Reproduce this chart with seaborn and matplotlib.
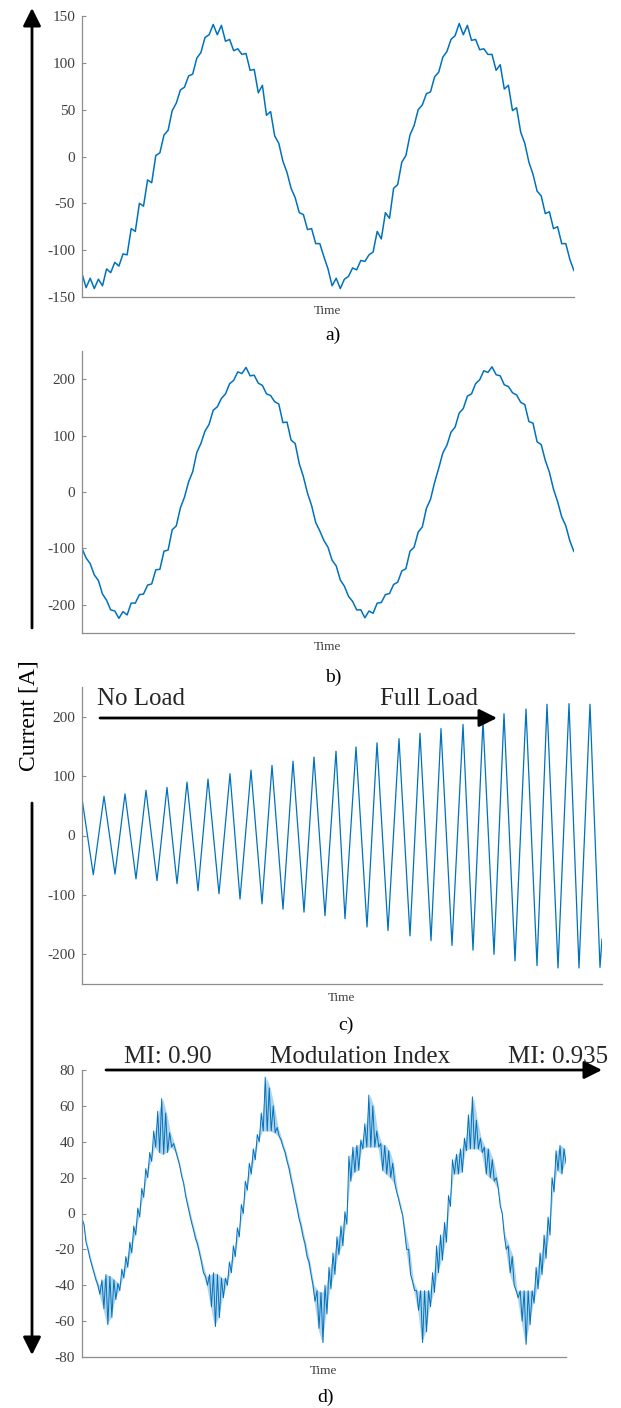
import numpy as np
import pandas as pd
import matplotlib
matplotlib.use("Agg")
import matplotlib.pyplot as plt
import seaborn as sns

# ---------------- data ----------------
# a) current [A], equally spaced samples across the time window
a_current = [
    -125, -140, -130, -141, -131, -138, -120, -124, -113, -117,
    -104, -105, -77, -80, -50, -53, -25, -28, 1, 4,
    23, 28, 49, 57, 71, 74, 86, 88, 105, 111,
    127, 130, 141, 130, 140, 123, 125, 113, 115, 109,
    110, 92, 93, 68, 76, 44, 48, 22, 14, -5,
    -17, -34, -44, -60, -62, -78, -77, -93, -93, -107,
    -120, -138, -130, -141, -131, -128, -119, -121, -111, -112,
    -105, -102, -80, -88, -60, -66, -34, -30, -6, 1,
    23, 33, 50, 55, 67, 69, 85, 90, 106, 112,
    125, 129, 142, 130, 140, 124, 125, 114, 115, 109,
    109, 92, 98, 72, 76, 49, 52, 26, 14, -6,
    -19, -37, -42, -61, -59, -77, -75, -93, -93, -110,
    -122]

# b) current [A], equally spaced samples
b_current = [
    -100, -117, -127, -147, -157, -181, -192, -209, -211, -224,
    -212, -218, -197, -197, -182, -181, -165, -163, -138, -137,
    -105, -103, -67, -60, -28, -9, 18, 36, 70, 86,
    108, 120, 145, 151, 166, 174, 192, 198, 213, 210,
    221, 206, 207, 193, 189, 174, 171, 160, 156, 123,
    124, 92, 86, 50, 27, -2, -24, -54, -69, -86,
    -98, -121, -131, -156, -167, -185, -194, -209, -209, -223,
    -211, -215, -197, -196, -182, -180, -164, -160, -140, -136,
    -105, -98, -71, -62, -29, -13, 17, 42, 69, 83,
    106, 115, 140, 148, 170, 174, 192, 199, 215, 212,
    222, 208, 206, 190, 187, 176, 172, 159, 155, 125,
    122, 89, 84, 56, 35, 5, -17, -44, -60, -87,
    -106]

# c) load ramp: time of each peak / trough and its current
c_time = [0, 11.3, 22, 33, 43, 54, 64, 75, 85, 95, 105, 116, 126, 137, 148,
          158, 169, 180, 190, 201, 211, 222, 232, 243, 254, 263, 274, 285,
          295, 306, 317, 328, 338, 349, 359, 370, 381, 391, 401, 412, 422,
          433, 444, 455, 465, 476, 487, 497, 508, 518, 520]
c_current = [62, -66, 66, -65, 70, -73, 76, -76, 81, -81, 90, -93, 95, -98,
             104, -107, 110, -115, 118, -124, 125, -129, 132, -135, 142,
             -140, 149, -154, 156, -160, 163, -169, 172, -177, 180, -185,
             187, -193, 194, -200, 205, -211, 213, -219, 221, -223, 222,
             -223, 221, -222, -174]

# d) modulation index ramp: upper / lower edge of the switching ripple
d_upper = [
    -3, -16, -25, -33, -40, -37, -34, -35, -37, -39,
    -31, -24, -16, -7, 3, 14, 25, 34, 46, 57,
    64, 56, 45, 39, 31, 21, 10, 0, -9, -17,
    -27, -35, -34, -33, -34, -36, -36, -27, -18, -8,
    5, 18, 28, 36, 44, 56, 76, 70, 60, 48,
    41, 34, 25, 14, 3, -7, -17, -27, -40, -43,
    -44, -40, -30, -22, -13, -7, 1, 32, 37, 38,
    41, 50, 66, 60, 46, 39, 38, 35, 28, 12,
    3, -10, -20, -38, -43, -43, -43, -43, -33, -18,
    -12, -5, 10, 30, 33, 36, 42, 55, 65, 52,
    42, 37, 36, 30, 20, 4, -12, -18, -24, -43,
    -43, -43, -43, -43, -30, -22, -12, -2, 20, 35,
    38, 36]
d_lower = [
    -6, -20, -29, -37, -45, -53, -62, -58, -48, -43,
    -36, -30, -22, -12, -2, 9, 20, 29, 37, 34,
    33, 34, 37, 35, 27, 17, 5, -5, -14, -22,
    -33, -40, -52, -63, -58, -47, -40, -33, -24, -13,
    0, 13, 22, 30, 40, 46, 46, 46, 45, 43,
    37, 29, 19, 8, -3, -13, -24, -34, -49, -64,
    -72, -56, -42, -34, -23, -18, -6, 18, 23, 24,
    36, 37, 37, 37, 37, 24, 22, 20, 17, 8,
    -1, -20, -34, -43, -54, -72, -66, -52, -44, -33,
    -26, -16, 4, 22, 22, 23, 35, 36, 36, 36,
    34, 22, 20, 18, 14, 0, -20, -33, -40, -47,
    -60, -73, -62, -50, -42, -34, -25, -12, 12, 24,
    22, 28]

a_ticks = [-150, -100, -50, 0, 50, 100, 150]
bc_ticks = [-200, -100, 0, 100, 200]
d_ticks = [-80, -60, -40, -20, 0, 20, 40, 60, 80]
panel_labels = ["a)", "b)", "c)", "d)"]

# ---------------- style ----------------
sns.set_theme(style="white")
plt.rcParams["font.family"] = ["Liberation Serif", "DejaVu Serif"]
plt.rcParams["axes.unicode_minus"] = False

W, H = 621, 1408
fig = plt.figure(figsize=(W / 100, H / 100), dpi=100)
fig.patch.set_facecolor("white")

BLUE = "#0072BD"
TXT = "#404040"
SPINE = "#8c8c8c"


def box(l, t, r, b):
    return [l / W, 1 - b / H, (r - l) / W, (b - t) / H]


def style(ax, ticks, lim):
    ax.set_ylim(*lim)
    ax.set_yticks(ticks)
    ax.set_yticklabels([str(v) for v in ticks])
    ax.set_xticks([])
    for s in ["top", "right"]:
        ax.spines[s].set_visible(False)
    for s in ["left", "bottom"]:
        ax.spines[s].set_color(SPINE)
        ax.spines[s].set_linewidth(0.9)
    ax.tick_params(axis="y", direction="in", length=3, width=0.8,
                   color=SPINE, labelsize=11, labelcolor=TXT, pad=5,
                   left=True)
    ax.set_ylabel("")
    ax.set_xlabel("Time", fontsize=9.5, color=TXT, labelpad=6)
    ax.patch.set_alpha(0)


# a)
ax_a = fig.add_axes(box(82, 16, 574, 297))
df_a = pd.DataFrame({"t": np.arange(len(a_current)), "I": a_current})
sns.lineplot(data=df_a, x="t", y="I", ax=ax_a, color=BLUE, lw=1.1,
             estimator=None, sort=False)
ax_a.set_xlim(0, len(a_current) - 1)
style(ax_a, a_ticks, (-150, 150))

# b)
ax_b = fig.add_axes(box(82, 351, 574, 633))
df_b = pd.DataFrame({"t": np.arange(len(b_current)), "I": b_current})
sns.lineplot(data=df_b, x="t", y="I", ax=ax_b, color=BLUE, lw=1.1,
             estimator=None, sort=False)
ax_b.set_xlim(0, len(b_current) - 1)
style(ax_b, bc_ticks, (-250, 250))

# c)
ax_c = fig.add_axes(box(82, 687, 602, 984))
df_c = pd.DataFrame({"t": c_time, "I": c_current})
sns.lineplot(data=df_c, x="t", y="I", ax=ax_c, color=BLUE, lw=0.9,
             estimator=None, sort=False)
ax_c.set_xlim(c_time[0], c_time[-1])
style(ax_c, bc_ticks, (-250, 250))

# d)
ax_d = fig.add_axes(box(82, 1070, 566, 1357))
n = len(d_upper)
idx = np.arange(n)
t_zig = np.ravel(np.column_stack([idx, idx + 0.5]))
y_zig = np.ravel(np.column_stack([d_upper, d_lower]))
ax_d.fill_between(idx + 0.25, d_lower, d_upper, color=BLUE, alpha=0.3, lw=0)
df_d = pd.DataFrame({"t": t_zig, "I": y_zig})
sns.lineplot(data=df_d, x="t", y="I", ax=ax_d, color=BLUE, lw=0.7,
             estimator=None, sort=False)
ax_d.set_xlim(0, n - 0.5)
style(ax_d, d_ticks, (-80, 80))

# ---------------- overlay: arrows and captions ----------------
ov = fig.add_axes([0, 0, 1, 1], zorder=10)
ov.set_xlim(0, W)
ov.set_ylim(H, 0)
ov.axis("off")
ov.patch.set_alpha(0)


def arrow(x0, y0, x1, y1):
    ov.annotate("", xy=(x1, y1), xytext=(x0, y0),
                arrowprops=dict(arrowstyle="-|>,head_length=0.6,head_width=0.3",
                                lw=2, color="black", shrinkA=0, shrinkB=0,
                                mutation_scale=18))


# left big arrows
arrow(32, 628, 32, 8)
arrow(32, 803, 32, 1355)
ov.text(29, 716, "Current [A]", rotation=90, fontsize=17, ha="center",
        va="center", color="black")

# panel letters
for lab, (x, y) in zip(panel_labels, [(333, 335), (333, 677), (346, 1025), (325, 1397)]):
    ov.text(x, y, lab, fontsize=14, ha="center", va="center", color="black")

# c) annotation
arrow(100, 718, 497, 718)
ov.text(97, 705, "No Load", fontsize=18, ha="left", va="baseline")
ov.text(380, 705, "Full Load", fontsize=18, ha="left", va="baseline")

# d) annotation
arrow(106, 1070, 602, 1070)
ov.text(124, 1063, "MI: 0.90", fontsize=18, ha="left", va="baseline")
ov.text(270, 1063, "Modulation Index", fontsize=18, ha="left", va="baseline")
ov.text(508, 1063, "MI: 0.935", fontsize=18, ha="left", va="baseline")

fig.savefig("out.png", dpi=100, facecolor="white")
